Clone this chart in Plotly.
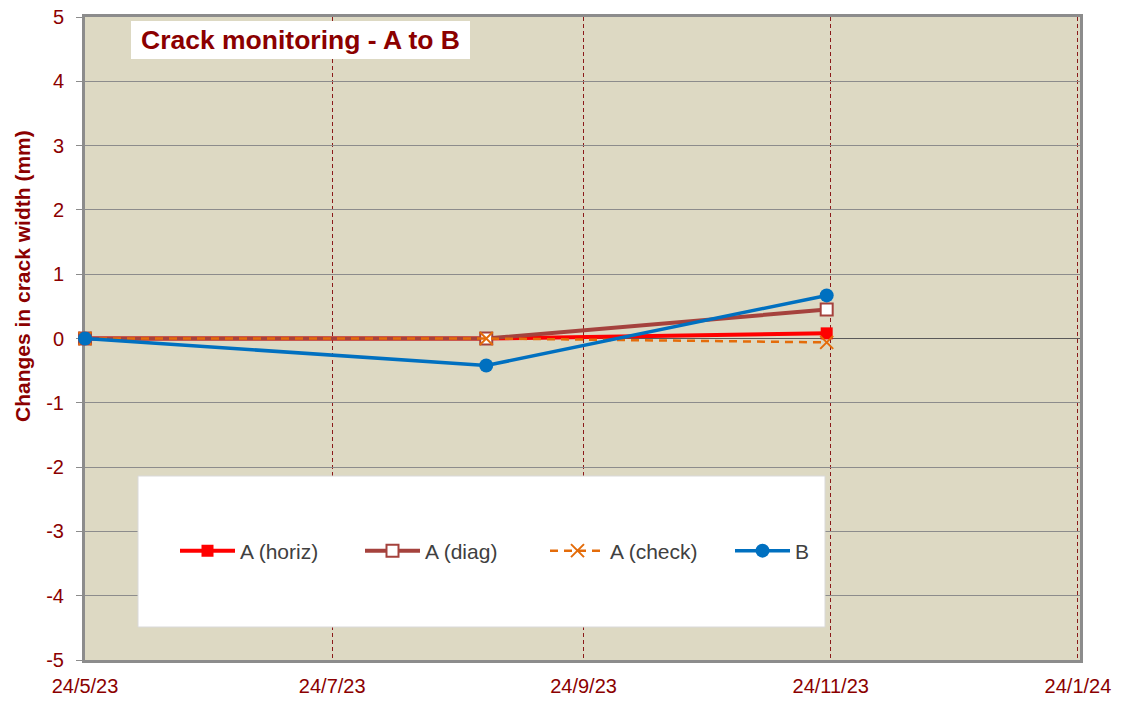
import plotly.graph_objects as go

dates = ["2023-05-24", "2023-08-31", "2023-11-23"]
a_horiz = [0.0, 0.0, 0.08]
a_diag = [0.0, 0.0, 0.45]
a_check = [0.0, 0.0, -0.06]
b_vals = [0.0, -0.42, 0.67]

tick_dates = ["2023-05-24", "2023-07-24", "2023-09-24", "2023-11-24", "2024-01-24"]
tick_text = ["24/5/23", "24/7/23", "24/9/23", "24/11/23", "24/1/24"]
y_ticks = [-5, -4, -3, -2, -1, 0, 1, 2, 3, 4, 5]
y_text = ["-5", "-4", "-3", "-2", "-1", "0", "1", "2", "3", "4", "5"]

DARKRED = "#8B0000"
FONT = "Liberation Sans, Arial"

fig = go.Figure()
fig.add_trace(go.Scatter(x=dates, y=a_horiz, name="A (horiz)", mode="lines+markers",
                         line=dict(color="#FF0000", width=4), cliponaxis=False,
                         marker=dict(symbol="square", size=12, color="#FF0000")))
fig.add_trace(go.Scatter(x=dates, y=a_diag, name="A (diag)", mode="lines+markers",
                         line=dict(color="#A5423D", width=4), cliponaxis=False,
                         marker=dict(symbol="square", size=12, color="white",
                                     line=dict(color="#A5423D", width=2))))
fig.add_trace(go.Scatter(x=dates, y=a_check, name="A (check)", mode="lines+markers",
                         line=dict(color="#E46C0A", width=2.5, dash="8px,6px"), cliponaxis=False,
                         marker=dict(symbol="x-thin", size=13, color="#E46C0A",
                                     line=dict(color="#E46C0A", width=2))))
fig.add_trace(go.Scatter(x=dates, y=b_vals, name="B", mode="lines+markers",
                         line=dict(color="#0070C0", width=3.5), cliponaxis=False,
                         marker=dict(symbol="circle", size=14, color="#0070C0")))

L, R, T, B = 85, 43, 17, 42
W, H = 1123, 702
pw, ph = W - L - R, H - T - B

def px(x):
    return (x - L) / pw

def py(y):
    return (H - B - y) / ph

fig.update_layout(
    width=W, height=H,
    margin=dict(l=L, r=R, t=T, b=B, autoexpand=False),
    paper_bgcolor="white",
    plot_bgcolor="#DDD9C3",
    showlegend=True,
    legend=dict(orientation="h", x=px(175), y=py(551), xanchor="left", yanchor="middle",
                bgcolor="rgba(0,0,0,0)", font=dict(family=FONT, size=21, color="#404040"),
                entrywidth=115, itemwidth=55),
    shapes=[
        dict(type="rect", xref="paper", yref="paper", x0=px(131), x1=px(470), y0=py(59), y1=py(21),
             fillcolor="white", line=dict(width=0), layer="above"),
        dict(type="rect", xref="paper", yref="paper", x0=px(138), x1=px(825), y0=py(627), y1=py(476),
             fillcolor="white", line=dict(color="#D9D9D9", width=1), layer="above"),
    ],
    annotations=[
        dict(text="<b>Crack monitoring - A to B</b>", xref="paper", yref="paper",
             x=px(300), y=py(40), xanchor="center", yanchor="middle", showarrow=False,
             font=dict(family=FONT, size=26.5, color=DARKRED)),
        dict(text="<b>Changes in crack width (mm)</b>", xref="paper", yref="paper",
             x=px(23), y=py(276), xanchor="center", yanchor="middle", showarrow=False,
             textangle=-90, font=dict(family=FONT, size=21, color=DARKRED)),
    ],
)

fig.update_xaxes(
    type="date", range=["2023-05-24", "2024-01-24 12:00"], automargin=False,
    tickvals=tick_dates, ticktext=tick_text,
    tickfont=dict(family=FONT, size=20, color=DARKRED),
    showgrid=True, gridcolor="#8B1A1A", gridwidth=1, griddash="4px,3px",
    showline=True, linecolor="#8C8C8C", linewidth=3, mirror=True,
    ticks="", ticklabelstandoff=6, zeroline=False, layer="below traces",
)
fig.update_yaxes(
    range=[-5, 5], tickvals=y_ticks, ticktext=y_text, automargin=False,
    tickfont=dict(family=FONT, size=20, color=DARKRED),
    showgrid=True, gridcolor="#8C8C8C", gridwidth=1,
    zeroline=True, zerolinecolor="#595959", zerolinewidth=1,
    showline=True, linecolor="#8C8C8C", linewidth=3, mirror=True,
    ticks="outside", ticklen=6, tickcolor="#8C8C8C", ticklabelstandoff=8,
    layer="below traces",
)

fig.write_html("out.html", config={"displayModeBar": False},
               post_script="document.body.style.margin='0';document.body.style.padding='0';")
